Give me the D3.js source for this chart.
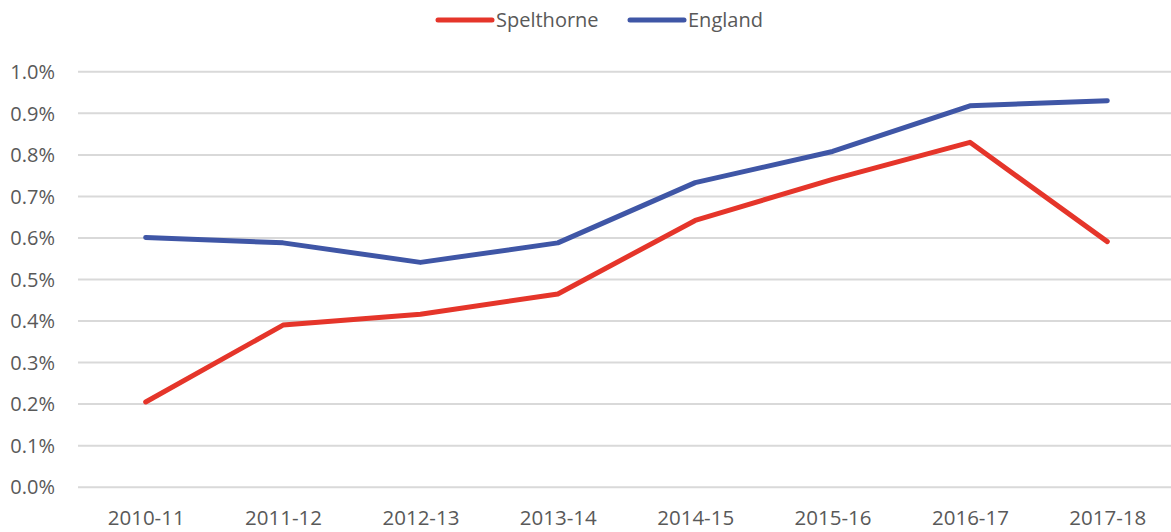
<!DOCTYPE html>
<html><head><meta charset="utf-8">
<script src="https://cdn.jsdelivr.net/npm/d3@7"></script>
<style>body{margin:0;background:#fff;} text{font-family:"Open Sans","Noto Sans",sans-serif;fill:#595959;}</style>
</head><body>
<svg id="c" width="1171" height="532"></svg>
<script>
const categories = ["2010-11","2011-12","2012-13","2013-14","2014-15","2015-16","2016-17","2017-18"];
const spelthorne = [0.204,0.389,0.415,0.464,0.641,0.740,0.829,0.590];
const england = [0.600,0.587,0.540,0.587,0.732,0.807,0.917,0.929];
const yTicks = [0,0.1,0.2,0.3,0.4,0.5,0.6,0.7,0.8,0.9,1.0];
const seriesNames = ["Spelthorne","England"];
const seriesColors = ["#E5352A","#3F56A6"];

const svg = d3.select("#c");
const x = d3.scalePoint().domain(categories).range([77,1176]).padding(0.5);
const y = d3.scaleLinear().domain([0,1.0]).range([486.7,71.3]);

// gridlines
const yAxis = d3.axisLeft(y).tickValues(yTicks).tickFormat(d=>d.toFixed(1)+"%").tickSize(-(1176-78)).tickPadding(23);
const ga = svg.append("g").attr("transform","translate(78,0)").call(yAxis);
ga.select(".domain").remove();
ga.selectAll(".tick line").attr("stroke","#d9d9d9").attr("stroke-width",2);
ga.selectAll(".tick text").attr("font-size","20px").attr("fill","#595959").attr("dy","0.36em");

const xAxis = d3.axisBottom(x).tickSize(0).tickPadding(0);
const gx = svg.append("g").attr("transform","translate(0,487)").call(xAxis);
gx.select(".domain").remove();
gx.selectAll(".tick text").attr("font-size","20.5px").attr("fill","#595959").attr("y",31).attr("dy","0.36em");

const line = d3.line().x((d,i)=>x(categories[i])).y(d=>y(d));
[spelthorne, england].forEach((s,i)=>{
  svg.append("path").datum(s).attr("d",line).attr("fill","none")
    .attr("stroke",seriesColors[i]).attr("stroke-width",5)
    .attr("stroke-linecap","round").attr("stroke-linejoin","round");
});

// legend
const legX = [437, 629];
seriesNames.forEach((n,i)=>{
  const g = svg.append("g").attr("transform",`translate(${legX[i]},20)`);
  g.append("line").attr("x1",1).attr("x2",55).attr("y1",0).attr("y2",0)
    .attr("stroke",seriesColors[i]).attr("stroke-width",5).attr("stroke-linecap","round");
  g.append("text").attr("x",59).attr("y",0).attr("dy","0.36em").attr("font-size","20px").text(n);
});
</script>
</body></html>
